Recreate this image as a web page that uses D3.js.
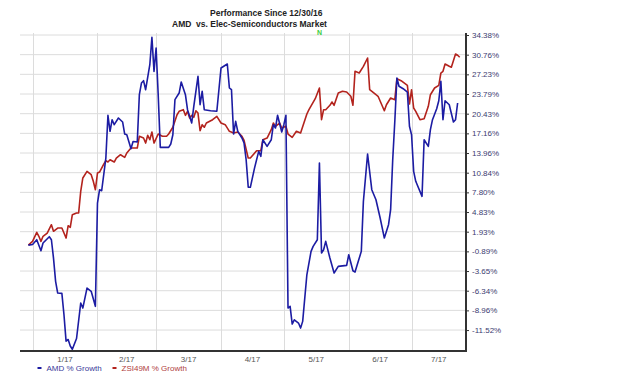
<!DOCTYPE html>
<html>
<head>
<meta charset="utf-8">
<script src="https://cdn.jsdelivr.net/npm/d3@7"></script>
<style>
  html, body { margin: 0; padding: 0; background: #fff; }
  svg { display: block; font-family: "Liberation Sans", Arial, sans-serif; }
</style>
</head>
<body>
<svg id="chart" width="620" height="376"></svg>
<script>
// ---------- data ----------
const titleLines = ["Performance Since 12/30/16", "AMD  vs. Elec-Semiconductors Market"];
const seriesNames = ["AMD % Growth", "ZSI49M % Growth"];
const monthLabels = ["1/17", "2/17", "3/17", "4/17", "5/17", "6/17", "7/17"];
const monthStarts = ["2017-01-01", "2017-02-01", "2017-03-01", "2017-04-01", "2017-05-01", "2017-06-01", "2017-07-01"];
const yTickLabels = ["34.38%", "30.76%", "27.23%", "23.79%", "20.43%", "17.16%", "13.96%", "10.84%",
                     "7.80%", "4.83%", "1.93%", "-0.89%", "-3.65%", "-6.34%", "-8.96%", "-11.52%"];
const yTickValues = [34.38, 30.76, 27.23, 23.79, 20.43, 17.16, 13.96, 10.84,
                     7.80, 4.83, 1.93, -0.89, -3.65, -6.34, -8.96, -11.52];
const markerDate = "2017-05-18";
const markerText = "N";

const amdDates = ["2016-12-30","2017-01-01","2017-01-03","2017-01-05","2017-01-06","2017-01-09","2017-01-10","2017-01-11",
  "2017-01-12","2017-01-13","2017-01-15","2017-01-16","2017-01-17","2017-01-18","2017-01-19","2017-01-20","2017-01-22",
  "2017-01-24","2017-01-25","2017-01-27","2017-01-29","2017-01-31","2017-02-01","2017-02-02","2017-02-03","2017-02-05",
  "2017-02-06","2017-02-07","2017-02-08","2017-02-09","2017-02-11","2017-02-13","2017-02-14","2017-02-15","2017-02-17",
  "2017-02-18","2017-02-20","2017-02-21","2017-02-22","2017-02-23","2017-02-24","2017-02-26","2017-02-27","2017-02-28",
  "2017-03-01","2017-03-02","2017-03-03","2017-03-07","2017-03-08","2017-03-09","2017-03-10","2017-03-12","2017-03-13",
  "2017-03-15","2017-03-16","2017-03-17","2017-03-18","2017-03-19","2017-03-21","2017-03-22","2017-03-23","2017-03-24",
  "2017-03-27","2017-03-30","2017-04-01","2017-04-04","2017-04-05","2017-04-06","2017-04-07","2017-04-08","2017-04-09",
  "2017-04-11","2017-04-12","2017-04-13","2017-04-14","2017-04-15","2017-04-17","2017-04-19","2017-04-20","2017-04-21",
  "2017-04-23","2017-04-25","2017-04-26","2017-04-27","2017-04-28","2017-04-30","2017-05-01","2017-05-02","2017-05-03",
  "2017-05-04","2017-05-05","2017-05-06","2017-05-08","2017-05-09","2017-05-10","2017-05-12","2017-05-14","2017-05-15",
  "2017-05-17","2017-05-18","2017-05-19","2017-05-20","2017-05-21","2017-05-23","2017-05-25","2017-05-27","2017-05-31",
  "2017-06-01","2017-06-03","2017-06-04","2017-06-07","2017-06-08","2017-06-10","2017-06-12","2017-06-14","2017-06-16",
  "2017-06-18","2017-06-20","2017-06-21","2017-06-22","2017-06-23","2017-06-24","2017-06-25","2017-06-27","2017-06-29",
  "2017-06-30","2017-07-01","2017-07-02","2017-07-03","2017-07-06","2017-07-07","2017-07-09","2017-07-10","2017-07-11",
  "2017-07-13","2017-07-14","2017-07-15","2017-07-16","2017-07-17","2017-07-19","2017-07-21","2017-07-22","2017-07-23"];
const amdValues = [0.0,0.1,0.78,-0.80,0.31,1.21,0.78,-1.83,
  -5.06,-6.65,-6.69,-9.53,-12.96,-12.75,-13.59,-14.02,-12.62,
  -7.98,-8.65,-5.98,-6.42,-8.42,6.19,8.21,8.05,13.16,
  20.16,17.50,19.43,18.60,19.71,19.05,17.05,16.94,14.66,
  15.83,15.75,23.67,25.71,26.12,24.54,28.96,33.96,27.77,
  31.99,23.67,14.88,14.88,15.42,16.94,22.82,23.96,25.89,
  23.67,21.11,19.99,18.88,21.69,26.89,21.96,24.26,21.11,
  20.94,20.84,28.37,29.09,24.84,24.54,17.05,19.16,17.50,
  16.40,15.58,12.89,8.58,8.58,11.57,14.23,13.44,16.12,
  15.05,16.12,18.60,18.05,20.16,17.39,18.60,20.16,-8.65,
  -8.42,-10.74,-10.18,-10.61,-11.26,-10.39,-4.16,-0.89,-0.17,
  0.78,12.37,-1.12,-0.66,0.55,-1.83,-3.92,-2.99,-2.85,
  -1.36,-3.61,-3.79,-0.89,6.45,13.80,8.21,6.69,3.95,
  1.02,2.96,5.18,12.89,19.16,26.59,25.14,24.72,24.14,
  18.33,16.94,11.05,9.51,7.20,16.12,15.05,17.77,19.43,
  21.28,22.64,26.01,19.43,22.64,21.96,19.05,19.43,22.25];

const zsiDates = ["2016-12-30","2017-01-01","2017-01-03","2017-01-04","2017-01-05","2017-01-06","2017-01-08","2017-01-10",
  "2017-01-11","2017-01-13","2017-01-15","2017-01-17","2017-01-18","2017-01-19","2017-01-20","2017-01-22","2017-01-23",
  "2017-01-24","2017-01-25","2017-01-27","2017-01-29","2017-01-30","2017-01-31","2017-02-01","2017-02-02","2017-02-04",
  "2017-02-05","2017-02-06","2017-02-07","2017-02-09","2017-02-10","2017-02-12","2017-02-14","2017-02-15","2017-02-17",
  "2017-02-18","2017-02-20","2017-02-21","2017-02-23","2017-02-24","2017-02-25","2017-02-26","2017-02-27","2017-02-28",
  "2017-03-02","2017-03-04","2017-03-06","2017-03-07","2017-03-09","2017-03-11","2017-03-12","2017-03-14","2017-03-15",
  "2017-03-16","2017-03-17","2017-03-18","2017-03-19","2017-03-20","2017-03-21","2017-03-22","2017-03-23","2017-03-24",
  "2017-03-25","2017-03-28","2017-03-30","2017-04-01","2017-04-03","2017-04-05","2017-04-07","2017-04-09","2017-04-11",
  "2017-04-12","2017-04-14","2017-04-15","2017-04-18","2017-04-20","2017-04-21","2017-04-23","2017-04-25","2017-04-26",
  "2017-04-27","2017-04-29","2017-04-30","2017-05-02","2017-05-03","2017-05-05","2017-05-07","2017-05-09","2017-05-12",
  "2017-05-13","2017-05-16","2017-05-18","2017-05-19","2017-05-20","2017-05-21","2017-05-23","2017-05-24","2017-05-25",
  "2017-05-27","2017-05-29","2017-05-31","2017-06-02","2017-06-03","2017-06-04","2017-06-06","2017-06-08","2017-06-10",
  "2017-06-11","2017-06-14","2017-06-15","2017-06-18","2017-06-19","2017-06-21","2017-06-23","2017-06-24","2017-06-26",
  "2017-06-29","2017-06-30","2017-07-01","2017-07-02","2017-07-03","2017-07-05","2017-07-07","2017-07-09","2017-07-10",
  "2017-07-12","2017-07-14","2017-07-15","2017-07-16","2017-07-17","2017-07-19","2017-07-20","2017-07-22","2017-07-23",
  "2017-07-24"];
const zsiValues = [0.0,0.55,1.84,1.27,0.55,1.27,1.74,2.96,
  1.99,2.47,2.47,1.02,2.81,2.57,4.43,4.68,4.68,
  7.96,10.02,11.05,10.53,9.51,8.21,10.79,10.94,12.21,
  12.74,12.53,12.89,12.53,13.16,13.69,13.28,13.96,14.77,
  14.77,14.77,16.68,16.40,15.58,16.84,16.12,17.39,15.58,
  17.05,16.68,16.68,17.05,18.17,20.26,20.83,21.11,20.16,
  20.83,19.71,20.16,19.83,20.93,20.54,17.60,18.60,18.17,
  18.88,19.43,19.99,18.88,18.60,17.50,17.22,17.38,16.68,
  16.00,13.16,13.16,14.33,14.33,16.12,16.40,17.77,18.88,
  18.33,18.88,18.05,18.33,17.05,16.51,17.50,17.22,20.38,
  21.11,22.99,24.84,19.43,21.11,21.11,21.86,22.42,21.86,
  23.96,24.26,24.14,23.40,21.86,27.77,27.47,28.67,30.16,
  24.54,23.67,23.40,20.93,21.96,23.11,22.82,26.47,26.12,
  25.31,22.08,24.54,21.40,20.83,19.43,19.60,21.69,23.67,
  24.84,25.31,27.47,27.77,29.09,28.67,28.50,30.88,30.65,
  30.29];

// ---------- layout ----------
const svg = d3.select("#chart");
const parse = d3.timeParse("%Y-%m-%d");
const plot = { left: 20, right: 466, top: 33, bottom: 351, firstTick: 35, tickStep: 19.67 };

const x = d3.scaleTime()
  .domain([new Date(2016, 11, 26), new Date(2017, 6, 27)])
  .range([plot.left, plot.right]);

// chart's y axis is non-linear (log-like); map exactly through the labelled ticks
const y = d3.scaleLinear()
  .domain(yTickValues)
  .range(yTickValues.map((_, i) => plot.firstTick + i * plot.tickStep));

const grid = svg.append("g");
grid.selectAll("line.h").data(yTickValues).join("line")
  .attr("x1", plot.left).attr("x2", plot.right)
  .attr("y1", d => y(d)).attr("y2", d => y(d))
  .attr("stroke", "#dcdcdc").attr("stroke-width", 1);
const starts = monthStarts.map(parse);
grid.selectAll("line.v").data(starts).join("line")
  .attr("x1", d => Math.round(x(d)) + 0.5).attr("x2", d => Math.round(x(d)) + 0.5)
  .attr("y1", plot.top).attr("y2", plot.bottom)
  .attr("stroke", "#dcdcdc").attr("stroke-width", 1);

// lines
const line = d3.line().x(d => x(d[0])).y(d => y(d[1]));
const amd = amdDates.map((d, i) => [parse(d), amdValues[i]]);
const zsi = zsiDates.map((d, i) => [parse(d), zsiValues[i]]);
const colors = ["#1c1ca3", "#b3231d"];

svg.append("path").datum(zsi).attr("d", line)
  .attr("fill", "none").attr("stroke", colors[1]).attr("stroke-width", 1.6).attr("stroke-linejoin", "round");
svg.append("path").datum(amd).attr("d", line)
  .attr("fill", "none").attr("stroke", colors[0]).attr("stroke-width", 1.6).attr("stroke-linejoin", "round");

// right y axis
const yAxis = d3.axisRight(y)
  .tickValues(yTickValues)
  .tickFormat((d, i) => yTickLabels[i])
  .tickSize(3).tickPadding(3);
const gy = svg.append("g").attr("transform", `translate(${plot.right},0)`).call(yAxis);
gy.select(".domain").remove();
gy.selectAll(".tick line").attr("stroke", "#333");
gy.selectAll(".tick text").attr("fill", "#3b3b70").attr("font-size", 8)
  .attr("font-family", "Liberation Sans, Arial, sans-serif");
svg.append("line").attr("x1", plot.right).attr("x2", plot.right)
  .attr("y1", plot.top).attr("y2", plot.bottom + 1)
  .attr("stroke", "#333").attr("stroke-width", 2);

// bottom axis line
svg.append("line").attr("x1", plot.left).attr("x2", plot.right + 1)
  .attr("y1", plot.bottom).attr("y2", plot.bottom)
  .attr("stroke", "#333").attr("stroke-width", 2);

// month labels centred between month gridlines
const bounds = starts.map(d => x(d)).concat([plot.right]);
svg.append("g").selectAll("text").data(monthLabels).join("text")
  .attr("x", (d, i) => (bounds[i] + bounds[i + 1]) / 2)
  .attr("y", 362)
  .attr("text-anchor", "middle")
  .attr("font-size", 8).attr("fill", "#555")
  .text(d => d);

// title
svg.append("text").attr("x", 210).attr("y", 16)
  .attr("font-size", 8.5).attr("font-weight", "bold").attr("fill", "#222")
  .text(titleLines[0]);
svg.append("text").attr("x", 172).attr("y", 27)
  .attr("font-size", 8.5).attr("font-weight", "bold").attr("fill", "#222")
  .attr("xml:space", "preserve").style("white-space", "pre")
  .text(titleLines[1]);

// marker
svg.append("text").attr("x", x(parse(markerDate))).attr("y", 35)
  .attr("text-anchor", "middle").attr("font-size", 7).attr("font-weight", "bold")
  .attr("fill", "#3ccc3c").text(markerText);

// legend
const legendX = [37.5, 112.5];
const lg = svg.append("g");
seriesNames.forEach((name, i) => {
  lg.append("line").attr("x1", legendX[i]).attr("x2", legendX[i] + 4)
    .attr("y1", 368).attr("y2", 368)
    .attr("stroke", colors[i]).attr("stroke-width", 2);
  lg.append("text").attr("x", legendX[i] + 9).attr("y", 371)
    .attr("font-size", 8).attr("fill", i === 0 ? "#3a3a9a" : "#b04040")
    .text(name);
});
</script>
</body>
</html>
